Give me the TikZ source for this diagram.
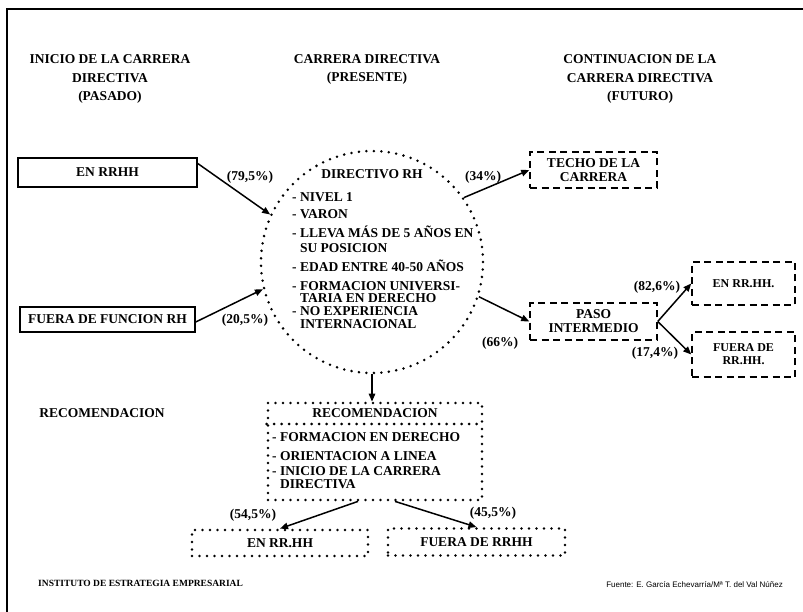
\documentclass[tikz,border=0pt]{standalone}
\usepackage{fontspec}
\setmainfont{Liberation Serif}
\setsansfont{Liberation Sans}
\usepackage{tikz}
\usetikzlibrary{arrows.meta}
\tikzset{
  lab/.style={inner sep=0pt, font=\bfseries\fontsize{13.5}{15}\selectfont},
  head/.style={lab, align=center, font=\bfseries\fontsize{13.5}{18.5}\selectfont},
  list/.style={lab, align=left, font=\bfseries\fontsize{13.5}{13}\selectfont},
  solidbox/.style={lab, draw, line width=1.5pt},
  dashbox/.style={lab, draw, line width=1.5pt, dash pattern=on 7pt off 4.5pt, align=center, font=\bfseries\fontsize{13.5}{14}\selectfont},
  smalltxt/.style={font=\bfseries\fontsize{12}{13}\selectfont},
  dotline/.style={line width=2.8pt, dash pattern=on 0pt off 7.5pt, line cap=round},
  dotbox/.style={lab, draw, dotline},
  dotcirc/.style={circle, draw, dotline, inner sep=0pt},
  arr/.style={line width=1.5pt, -{Triangle[length=8pt,width=6.5pt]}},
  foot/.style={inner sep=0pt, font=\bfseries\fontsize{9.5}{10}\selectfont},
  src/.style={inner sep=0pt, font=\sffamily\fontsize{8}{9}\selectfont},
}

\begin{document}
\begin{tikzpicture}[x=1pt,y=-1pt]
\useasboundingbox (0,0) rectangle (803,612);
% frame
\draw[line width=1.5pt] (7,612) -- (7,9) -- (803,9);

% column heads
\node[head] (hpas) at (110,79) {INICIO DE LA CARRERA\\DIRECTIVA\\(PASADO)};
\node[head] (hpre) at (367,69.5) {CARRERA DIRECTIVA\\(PRESENTE)};
\node[head] (hfut) at (640,79) {CONTINUACION DE LA\\CARRERA DIRECTIVA\\(FUTURO)};

% past
\node[solidbox, minimum width=179, minimum height=29] (enrh) at (107.5,172.5) {EN RRHH};
\node[solidbox, minimum width=175, minimum height=25] (fuerafn) at (107.5,319.5) {FUERA DE FUNCION RH};

% present
\node[dotcirc, minimum size=222] (dir) at (372,262) {};
\node[lab] (dirt) at (372,174) {DIRECTIVO RH};
\node[list, anchor=north west] (dirl) at (292,192) {- NIVEL 1\\[4pt]
  - VARON\\[6pt]
  - LLEVA MÁS DE 5 AÑOS EN\\[2pt]
  \phantom{- }SU POSICION\\[6pt]
  - EDAD ENTRE 40-50 AÑOS\\[6pt]
  - FORMACION UNIVERSI-\\[-0.5pt]
  \phantom{- }TARIA EN DERECHO\\[-0.5pt]
  - NO EXPERIENCIA\\
  \phantom{- }INTERNACIONAL};

% future
\node[dashbox, minimum width=127, minimum height=36] (techo) at (593.5,170) {TECHO DE LA\\CARRERA};
\node[dashbox, minimum width=127, minimum height=37] (paso) at (593.5,321.5) {PASO\\INTERMEDIO};
\node[dashbox, smalltxt, minimum width=103, minimum height=43] (enrh2) at (743.5,283.5) {EN RR.HH.};
\node[dashbox, smalltxt, minimum width=103, minimum height=45] (fuera2) at (743.5,354.5) {FUERA DE\\RR.HH.};

% recommendation
\node[lab] (recl) at (102,413) {RECOMENDACION};
\node[dotbox, minimum width=214, minimum height=97] (recb) at (375,451.5) {};
\node[lab, minimum width=214, minimum height=22, anchor=north] (rech) at (recb.north) {RECOMENDACION};
\draw[dotline] (recb.west |- rech.south) -- (recb.east |- rech.south);
\node[list, anchor=north west] (recli) at (272,432.5) {- FORMACION EN DERECHO\\[6pt]
  - ORIENTACION A LINEA\\[2pt]
  - INICIO DE LA CARRERA\\
  \phantom{- }DIRECTIVA};
\node[dotbox, minimum width=176, minimum height=26] (enrh3) at (280,543) {EN RR.HH};
\node[dotbox, minimum width=177, minimum height=27] (fuera3) at (476.5,542) {FUERA DE RRHH};

% connectors
\draw[arr] ([yshift=9pt]enrh.east) -- (dir.155);
\draw[arr] ([yshift=-2.5pt]fuerafn.east) -- (dir.194);
\draw[arr] (dir.35) -- (techo.west);
\draw[arr] (dir.-18) -- (paso.west);
\draw[arr] (paso.east) -- (enrh2.west);
\draw[arr] (paso.east) -- (fuera2.west);
\draw[arr] (dir.south) -- (dir.south |- recb.north);
\draw[arr] ([xshift=-17pt]recb.south) -- (enrh3.north);
\draw[arr] ([xshift=20pt]recb.south) -- (fuera3.north);

% shares
\node[lab] (p795) at (250,177) {(79,5\%)};
\node[lab] (p205) at (245,320) {(20,5\%)};
\node[lab] (p34) at (483,177) {(34\%)};
\node[lab] (p66) at (500,343) {(66\%)};
\node[lab] (p826) at (657,287) {(82,6\%)};
\node[lab] (p174) at (655,353) {(17,4\%)};
\node[lab] (p545) at (253,515) {(54,5\%)};
\node[lab] (p455) at (493,513) {(45,5\%)};

% footer
\node[foot, anchor=west] (inst) at (38,583) {INSTITUTO DE ESTRATEGIA EMPRESARIAL};
\node[src, anchor=east] (fuente) at (783,585) {Fuente: E. García Echevarría/Mª T. del Val Núñez};
\end{tikzpicture}
\end{document}
